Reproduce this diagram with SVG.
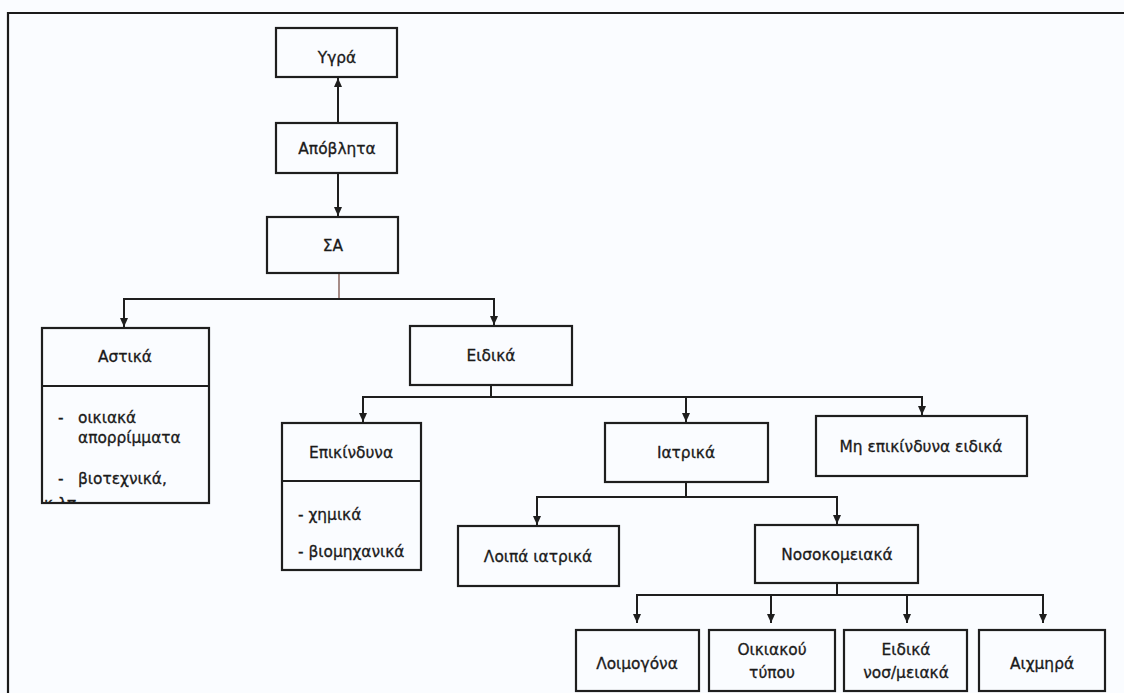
<svg xmlns="http://www.w3.org/2000/svg" width="1124" height="693" viewBox="0 0 1124 693">
<style>
.bg{fill:#fafcff}
.box{fill:none;stroke:#1e1e1e;stroke-width:2.2}
.div{stroke:#1e1e1e;stroke-width:2.2}
.frame{fill:none;stroke:#1a1a1a;stroke-width:2.2}
.con{fill:none;stroke:#1e1e1e;stroke-width:2}
.stem{fill:none;stroke:#7a5048;stroke-width:1.3}
text{font-family:"DejaVu Sans","Liberation Sans",sans-serif;font-size:15.4px;fill:#1a1a1a;stroke:#1a1a1a;stroke-width:0.3}
.c{text-anchor:middle}
</style>
<defs>
<marker id="ah" markerUnits="userSpaceOnUse" markerWidth="9" markerHeight="8" refX="9" refY="4" orient="auto">
<path d="M0,0 L9,4 L0,8 z" fill="#1e1e1e"/>
</marker>
<clipPath id="clipAst"><rect x="43" y="387" width="165" height="115"/></clipPath>
</defs>
<rect class="bg" x="0" y="0" width="1124" height="693"/>
<path class="frame" d="M1124,13 H8 V693"/>

<g id="connectors">
<path class="con" d="M338,123 V78" marker-end="url(#ah)"/>
<path class="con" d="M338,173 V216" marker-end="url(#ah)"/>
<path class="stem" d="M339,273 V299"/>
<path class="con" d="M124,327 V299 H494 V325"/>
<path class="con" d="M124,320 V327" marker-end="url(#ah)"/>
<path class="con" d="M494,318 V325" marker-end="url(#ah)"/>
<path class="con" d="M491,385 V397"/>
<path class="con" d="M363,422 V397 H922 V415"/>
<path class="con" d="M363,415 V422" marker-end="url(#ah)"/>
<path class="con" d="M686,397 V422" marker-end="url(#ah)"/>
<path class="con" d="M922,408 V415" marker-end="url(#ah)"/>
<path class="con" d="M686,482 V497"/>
<path class="con" d="M537,525 V497 H837 V524" marker-end="url(#ah)"/>
<path class="con" d="M537,515 V525" marker-end="url(#ah)"/>
<path class="con" d="M837,583 V595"/>
<path class="con" d="M637,623 V595 H1043 V623" marker-end="url(#ah)"/>
<path class="con" d="M637,615 V623" marker-end="url(#ah)"/>
<path class="con" d="M771,595 V623" marker-end="url(#ah)"/>
<path class="con" d="M907,595 V623" marker-end="url(#ah)"/>
</g>

<g id="n-ygra"><rect class="box" x="276" y="28" width="121" height="49"/><text class="c" x="337" y="63">Υγρά</text></g>
<g id="n-apovlita"><rect class="box" x="276" y="123" width="121" height="50"/><text class="c" x="337" y="154">Απόβλητα</text></g>
<g id="n-sa"><rect class="box" x="267" y="217" width="131" height="56"/><text class="c" x="333" y="251">ΣΑ</text></g>
<g id="n-astika">
<rect class="box" x="42" y="328" width="167" height="175"/>
<line class="div" x1="42" y1="386" x2="209" y2="386"/>
<text class="c" x="125" y="362">Αστικά</text>
<g clip-path="url(#clipAst)">
<text x="58" y="423">-</text><text x="78" y="423">οικιακά</text>
<text x="78" y="443">απορρίμματα</text>
<text x="58" y="484">-</text><text x="78" y="484">βιοτεχνικά,</text>
<text x="44" y="509">κ.λπ.</text>
</g>
</g>
<g id="n-eidika"><rect class="box" x="410" y="326" width="162" height="59"/><text class="c" x="491" y="361">Ειδικά</text></g>
<g id="n-epikindyna">
<rect class="box" x="282" y="423" width="139" height="147"/>
<line class="div" x1="282" y1="481" x2="421" y2="481"/>
<text class="c" x="351" y="458">Επικίνδυνα</text>
<text x="298" y="520">- χημικά</text>
<text x="298" y="557">- βιομηχανικά</text>
</g>
<g id="n-iatrika"><rect class="box" x="605" y="423" width="163" height="59"/><text class="c" x="686" y="458">Ιατρικά</text></g>
<g id="n-mi-epikindyna"><rect class="box" x="816" y="416" width="211" height="60"/><text class="c" x="921" y="452">Μη επικίνδυνα ειδικά</text></g>
<g id="n-loipa"><rect class="box" x="458" y="526" width="161" height="60"/><text class="c" x="538" y="562">Λοιπά ιατρικά</text></g>
<g id="n-nosokomeiaka"><rect class="box" x="755" y="525" width="163" height="58"/><text class="c" x="837" y="560">Νοσοκομειακά</text></g>
<g id="n-loimogona"><rect class="box" x="576" y="630" width="123" height="61"/><text class="c" x="637" y="669">Λοιμογόνα</text></g>
<g id="n-oikiakou"><rect class="box" x="709" y="630" width="126" height="61"/><text class="c" x="772" y="655">Οικιακού</text><text class="c" x="772" y="678">τύπου</text></g>
<g id="n-eidika-nos"><rect class="box" x="844" y="630" width="123" height="61"/><text class="c" x="906" y="655">Ειδικά</text><text class="c" x="906" y="678">νοσ/μειακά</text></g>
<g id="n-aichmira"><rect class="box" x="979" y="630" width="126" height="61"/><text class="c" x="1042" y="669">Αιχμηρά</text></g>
</svg>
